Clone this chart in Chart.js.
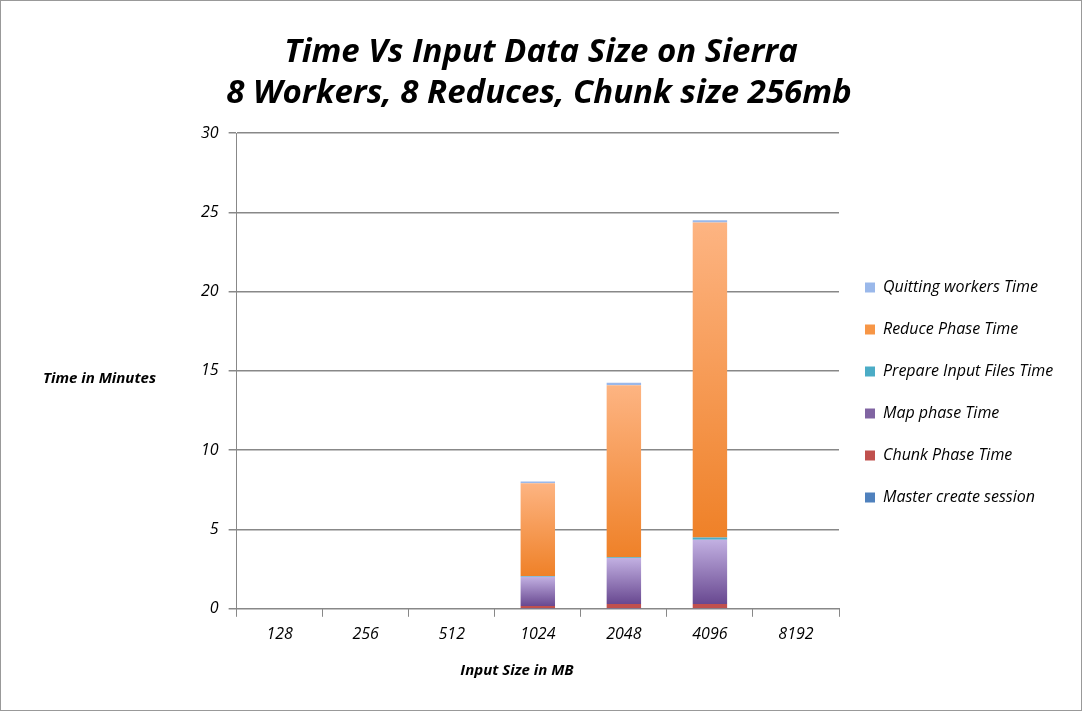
<!DOCTYPE html>
<html><head><meta charset="utf-8">
<script src="https://cdn.jsdelivr.net/npm/chart.js@4"></script>
<style>
html,body{margin:0;padding:0;background:#fff;}
#wrap{position:relative;width:1080px;height:709px;border:1px solid #999;}
</style></head><body>
<div id="wrap"><canvas id="c" width="1080" height="709"></canvas></div>
<script>
const categories = ['128', '256', '512', '1024', '2048', '4096', '8192'];
const masterSession = [0, 0, 0, 0.02, 0.02, 0.03];
const chunkPhase = [0, 0, 0, 0.15, 0.28, 0.27];
const mapPhase = [0, 0, 0, 1.85, 2.9, 4.05];
const prepareInput = [0, 0, 0, 0.05, 0.05, 0.15];
const reducePhase = [0, 0, 0, 5.85, 10.85, 19.85];
const quittingWorkers = [0, 0, 0, 0.1, 0.15, 0.15];
const yTicks = [0, 5, 10, 15, 20, 25, 30];
const seriesList = [masterSession, chunkPhase, mapPhase, prepareInput, reducePhase, quittingWorkers];

function grad(light, dark) {
  return (ctx) => {
    const ch = ctx.chart, y = ch.scales && ch.scales.y;
    if (!ch.chartArea || !y || ctx.type !== 'data') return dark;
    let below = 0;
    for (let k = 0; k < ctx.datasetIndex; k++) below += seriesList[k][ctx.dataIndex] || 0;
    const top = below + (seriesList[ctx.datasetIndex][ctx.dataIndex] || 0);
    const y0 = y.getPixelForValue(top), y1 = y.getPixelForValue(below);
    if (!isFinite(y0) || Math.abs(y1 - y0) < 1) return dark;
    const g = ch.ctx.createLinearGradient(0, y0, 0, y1);
    g.addColorStop(0, light); g.addColorStop(1, dark);
    return g;
  };
}

const extraText = {
  id: 'extraText',
  afterDraw(chart) {
    const c = chart.ctx;
    c.save();
    c.fillStyle = '#000';
    c.textAlign = 'center'; c.textBaseline = 'middle';
    c.font = 'italic bold 33px "Open Sans", sans-serif';
    c.fillText('Time Vs Input Data Size on Sierra', 540, 52);
    c.fillText('8 Workers, 8 Reduces, Chunk size 256mb', 538, 93);
    c.font = 'italic bold 15px "Open Sans", sans-serif';
    c.textAlign = 'left';
    c.fillText('Time in Minutes', 42, 378);
    c.textAlign = 'center';
    c.fillText('Input Size in MB', 516, 670);
    c.restore();
  }
};

new Chart(document.getElementById('c'), {
  type: 'bar',
  data: {
    labels: categories,
    datasets: [
      { label: 'Master create session', data: masterSession, backgroundColor: '#4f81bd' },
      { label: 'Chunk Phase Time', data: chunkPhase, backgroundColor: '#c0504d' },
      { label: 'Map phase Time', data: mapPhase, backgroundColor: grad('#c2b0e2', '#684890') },
      { label: 'Prepare Input Files Time', data: prepareInput, backgroundColor: '#4bacc6' },
      { label: 'Reduce Phase Time', data: reducePhase, backgroundColor: grad('#fdb482', '#ef8128') },
      { label: 'Quitting workers Time', data: quittingWorkers, backgroundColor: '#9ab8ea' }
    ].map(d => Object.assign(d, { borderWidth: 0, barPercentage: 0.4, categoryPercentage: 1 }))
  },
  options: {
    responsive: false,
    animation: false,
    layout: { padding: { left: 190, right: 26, top: 132, bottom: 58 } },
    plugins: {
      legend: {
        position: 'right', reverse: true,
        labels: {
          boxWidth: 10, boxHeight: 10, padding: 26, color: '#000',
          font: { family: '"Open Sans", sans-serif', size: 16, style: 'italic' },
          generateLabels(chart) {
            const cols = ['#4f81bd', '#c0504d', '#8064a2', '#4bacc6', '#f79646', '#9ab8ea'];
            return chart.data.datasets.map((d, i) => ({ text: d.label, fillStyle: cols[i], strokeStyle: cols[i], lineWidth: 0, datasetIndex: i }));
          }
        }
      },
      tooltip: { enabled: false }
    },
    scales: {
      x: {
        stacked: true,
        grid: { display: true, drawOnChartArea: false, color: '#888', offset: true, tickLength: 8 },
        border: { color: '#888' },
        ticks: { color: '#000', font: { family: '"Open Sans", sans-serif', size: 16, style: 'italic' }, padding: 8 }
      },
      y: {
        stacked: true, min: 0, max: 30,
        afterBuildTicks(axis) { axis.ticks = yTicks.map(v => ({ value: v })); },
        grid: { color: '#888', lineWidth: 1.5, tickLength: 8 },
        border: { color: '#888' },
        ticks: { color: '#000', font: { family: '"Open Sans", sans-serif', size: 16, style: 'italic' }, padding: 10 }
      }
    }
  },
  plugins: [extraText]
});
</script>
</body></html>
